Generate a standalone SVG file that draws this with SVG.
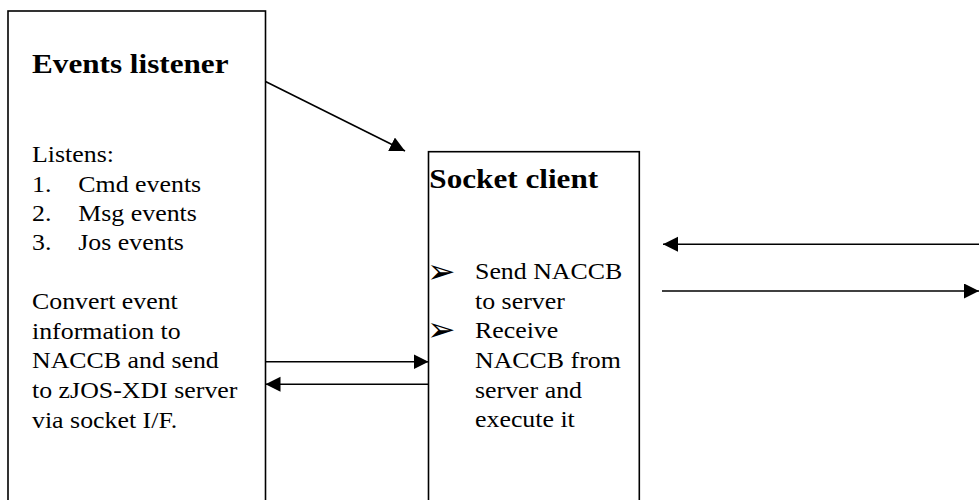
<svg xmlns="http://www.w3.org/2000/svg" width="979" height="500" viewBox="0 0 979 500">
<style>
.box{fill:#fff;stroke:#000;stroke-width:1.6}
.ln{fill:none;stroke:#000;stroke-width:1.6}
.t{font-family:"Liberation Serif","Times New Roman",serif;font-size:23px;fill:#000}
.h{font-family:"Liberation Serif","Times New Roman",serif;font-size:27px;font-weight:bold;fill:#000}
.b{font-family:"DejaVu Sans",sans-serif;font-size:34px;fill:#000}
</style>
<defs>
<marker id="ah" markerUnits="userSpaceOnUse" markerWidth="16" markerHeight="16" refX="15" refY="7.5" orient="auto">
<path d="M0,0 L15,7.5 L0,15 z" fill="#000"/>
</marker>
</defs>
<rect width="979" height="500" fill="#fff"/>
<g id="events-listener">
<rect class="box" x="8" y="11" width="257.5" height="495"/>
<text class="h" transform="translate(32 72.5) scale(1.155 1)">Events listener</text>
<text class="t" transform="translate(32 162.3) scale(1.125 1)">Listens:</text>
<text class="t" transform="translate(32 191.5) scale(1.125 1)">1.</text>
<text class="t" transform="translate(78.3 191.5) scale(1.125 1)">Cmd events</text>
<text class="t" transform="translate(32 220.5) scale(1.125 1)">2.</text>
<text class="t" transform="translate(78.3 220.5) scale(1.125 1)">Msg events</text>
<text class="t" transform="translate(32 249.5) scale(1.125 1)">3.</text>
<text class="t" transform="translate(78.3 249.5) scale(1.125 1)">Jos events</text>
<text class="t" transform="translate(32 309.3) scale(1.125 1)">Convert event</text>
<text class="t" transform="translate(32 338.7) scale(1.125 1)">information to</text>
<text class="t" transform="translate(32 368.2) scale(1.125 1)">NACCB and send</text>
<text class="t" transform="translate(32 397.7) scale(1.125 1)">to zJOS-XDI server</text>
<text class="t" transform="translate(32 427.5) scale(1.125 1)">via socket I/F.</text>
</g>
<g id="socket-client">
<rect class="box" x="428.5" y="151.7" width="210.8" height="360"/>
<text class="h" transform="translate(429.3 188.3) scale(1.155 1)">Socket client</text>
<text class="b" x="427" y="283">➢</text>
<text class="t" transform="translate(475 279.3) scale(1.125 1)">Send NACCB</text>
<text class="t" transform="translate(475 308.5) scale(1.125 1)">to server</text>
<text class="b" x="427" y="341">➢</text>
<text class="t" transform="translate(475 337.5) scale(1.125 1)">Receive</text>
<text class="t" transform="translate(475 368.3) scale(1.125 1)">NACCB from</text>
<text class="t" transform="translate(475 398) scale(1.125 1)">server and</text>
<text class="t" transform="translate(475 427.3) scale(1.125 1)">execute it</text>
</g>
<g id="connectors">
<line class="ln" x1="265.5" y1="81.5" x2="405" y2="151" marker-end="url(#ah)"/>
<line class="ln" x1="265.5" y1="361.7" x2="428.5" y2="361.7" marker-end="url(#ah)"/>
<line class="ln" x1="428.5" y1="384.3" x2="265.5" y2="384.3" marker-end="url(#ah)"/>
<line class="ln" x1="979" y1="244.3" x2="663" y2="244.3" marker-end="url(#ah)"/>
<line class="ln" x1="662" y1="291" x2="979" y2="291" marker-end="url(#ah)"/>
</g>
</svg>
